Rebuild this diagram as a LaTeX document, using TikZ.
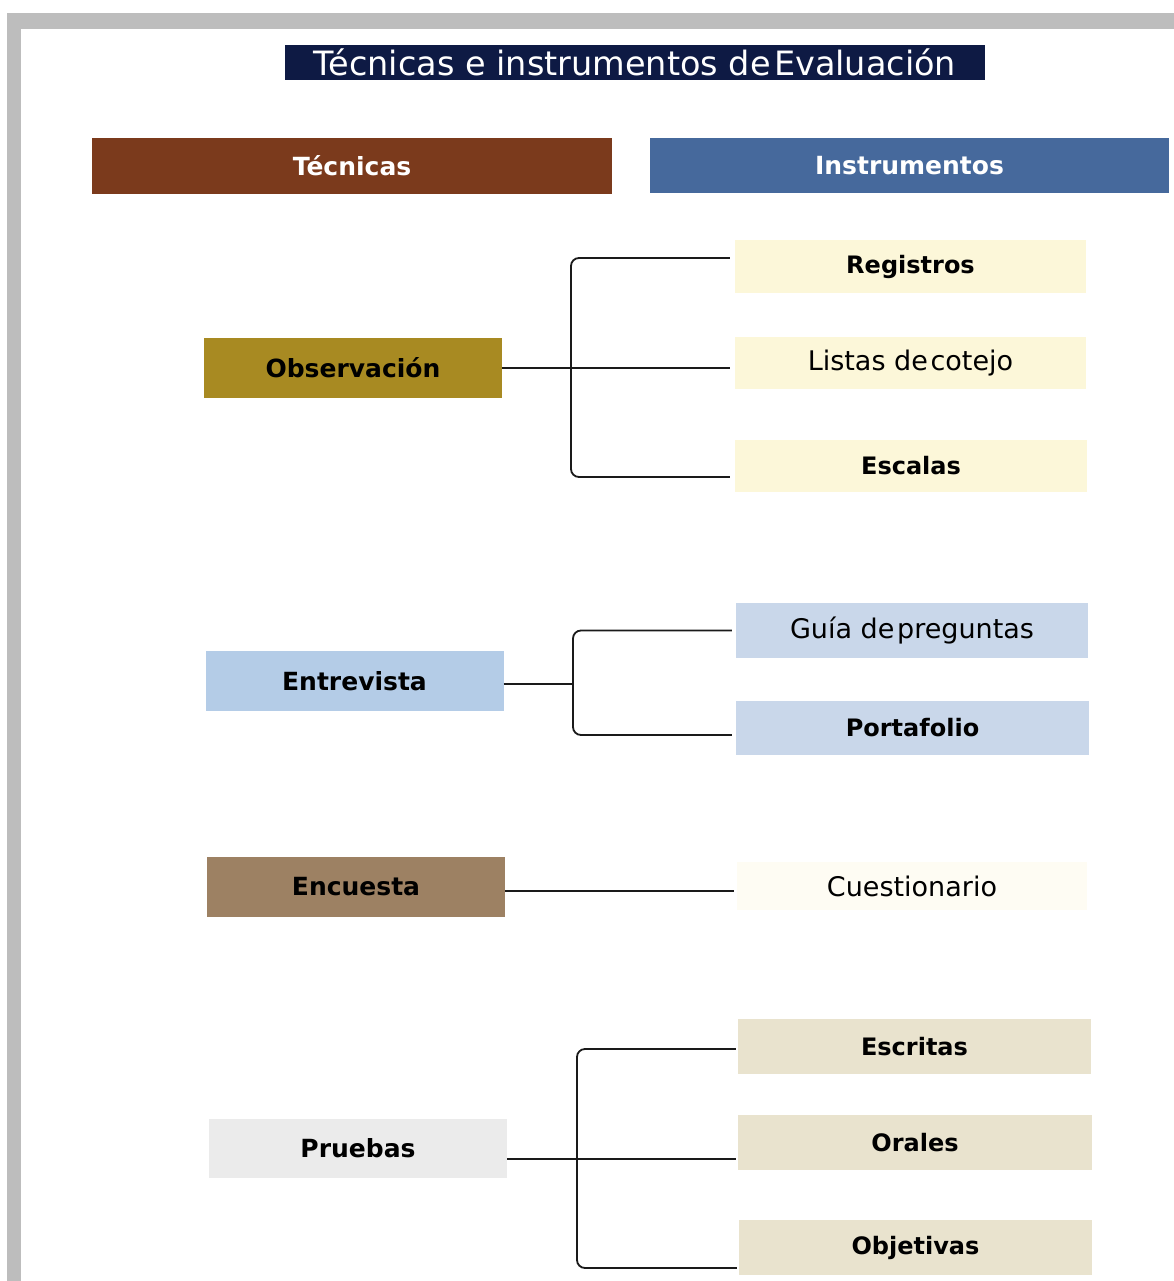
\documentclass[tikz,border=0pt]{standalone}
\usepackage{fontspec}
\setmainfont{DejaVu Sans}
\definecolor{framegray}{HTML}{BDBDBD}
\definecolor{titlec}{HTML}{0E1A44}
\definecolor{tecc}{HTML}{7B3A1C}
\definecolor{insc}{HTML}{46699C}
\definecolor{obsc}{HTML}{A88A22}
\definecolor{regc}{HTML}{FCF7D9}
\definecolor{entc}{HTML}{B4CCE7}
\definecolor{guic}{HTML}{C9D7EA}
\definecolor{encc}{HTML}{9D8163}
\definecolor{cuec}{HTML}{FEFCF3}
\definecolor{pruc}{HTML}{EBEBEB}
\definecolor{escc}{HTML}{E9E3CE}
\definecolor{linec}{HTML}{1A1A1A}
\begin{document}
\begin{tikzpicture}[x=1pt,y=-1pt,
  box/.style={rectangle, inner sep=0pt, draw=none, align=center},
  titlebox/.style={box, fill=titlec, text=white, font=\fontsize{33.5}{40}\selectfont},
  headbox/.style={box, text=white, font=\fontsize{25}{30}\selectfont\bfseries},
  tecbox/.style={box, text=black, font=\fontsize{25}{30}\selectfont\bfseries, minimum width=298pt, minimum height=60pt},
  insbold/.style={box, text=black, font=\fontsize{24}{29}\selectfont\bfseries, minimum width=352pt, minimum height=54pt},
  insreg/.style={box, text=black, font=\fontsize{27}{32}\selectfont, minimum width=352pt, minimum height=54pt},
  conn/.style={draw=linec, line width=1.8pt},
  bracket/.style={conn, rounded corners=8pt}
]
\useasboundingbox (0,0) rectangle (1174,1281);
% frame
\fill[framegray] (7,13) rectangle (1174,1281);
\fill[white] (21,29) rectangle (1174,1281);

% title and headers
\node[titlebox, minimum width=700pt, minimum height=35pt] (title) at (635,62.5) {Técnicas e instrumentos de\hspace{0.1em}Evaluación};
\node[headbox, fill=tecc, minimum width=520pt, minimum height=56pt] (tec) at (352,166) {Técnicas};
\node[headbox, fill=insc, minimum width=519pt, minimum height=55pt] (ins) at (909.5,165.5) {Instrumentos};

% techniques
\node[tecbox, fill=obsc] (obs) at (353,367.5) {Observación};
\node[tecbox, fill=entc] (ent) at (354.5,681) {Entrevista};
\node[tecbox, fill=encc] (enc) at (356,887) {Encuesta};
\node[tecbox, fill=pruc, minimum height=59pt] (pru) at (358,1148.5) {Pruebas};

% instruments
\node[insbold, fill=regc, minimum width=351pt, minimum height=53pt] (reg) at (910.5,266.5) {Registros};
\node[insreg, fill=regc, minimum width=351pt, minimum height=52pt] (lis) at (910.5,363) {Listas de\hspace{0.1em}cotejo};
\node[insbold, fill=regc, minimum height=52pt] (esc) at (911,466) {Escalas};

\node[insreg, fill=guic, minimum height=55pt] (gui) at (912,630.5) {Guía de\hspace{0.1em}preguntas};
\node[insbold, fill=guic, minimum width=353pt] (por) at (912.5,728) {Portafolio};

\node[insreg, fill=cuec, minimum width=350pt, minimum height=48pt] (cue) at (912,886) {Cuestionario};

\node[insbold, fill=escc, minimum width=353pt, minimum height=55pt] (escr) at (914.5,1046.5) {Escritas};
\node[insbold, fill=escc, minimum width=354pt, minimum height=55pt] (ora) at (915,1142.5) {Orales};
\node[insbold, fill=escc, minimum width=353pt, minimum height=55pt] (obj) at (915.5,1247.5) {Objetivas};

% bracket coordinates
\coordinate (b1) at (571,368);
\coordinate (b2) at (573,684);
\coordinate (b3) at (577,1159);

% Observacion
\draw[conn, shorten >=5pt] ([yshift=-0.5pt]obs.east) -- ([yshift=-0.5pt]obs.east -| lis.west);
\draw[bracket, shorten <=5pt, shorten >=5pt] ([yshift=8.5pt]reg.west) -| (b1) |- ([yshift=-11pt]esc.west);

% Entrevista
\draw[conn] ([yshift=-3pt]ent.east) -- (b2);
\draw[bracket, shorten <=4pt, shorten >=4pt] (gui.west) -| (b2) |- ([yshift=-7pt]por.west);

% Encuesta
\draw[conn, shorten >=3pt] ([yshift=-4pt]enc.east) -- ([yshift=-4pt]enc.east -| cue.west);

% Pruebas
\draw[conn, shorten >=2pt] ([yshift=-10.5pt]pru.east) -- ([yshift=-10.5pt]pru.east -| ora.west);
\draw[bracket, shorten <=2pt, shorten >=2pt] ([yshift=-2.5pt]escr.west) -| (b3) |- ([yshift=-20.5pt]obj.west);
\end{tikzpicture}
\end{document}
